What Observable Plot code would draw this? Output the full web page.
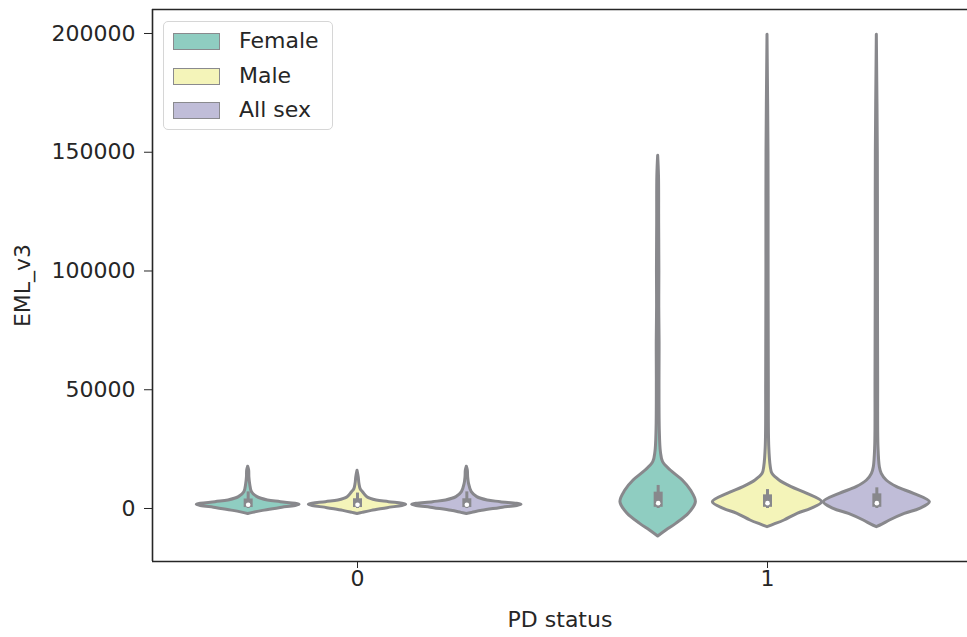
<!DOCTYPE html>
<html><head><meta charset="utf-8">
<script src="https://cdn.jsdelivr.net/npm/d3@7"></script>
<script src="https://cdn.jsdelivr.net/npm/@observablehq/plot@0.6"></script>
<style>
body{margin:0;background:#fff;font-family:"DejaVu Sans",sans-serif;}
#wrap{position:relative;width:967px;height:637px;overflow:hidden;}
.legend{position:absolute;left:163px;top:21px;width:170px;height:109px;border:1px solid #d6d6d6;border-radius:5px;background:rgba(255,255,255,0.85);box-sizing:border-box;}
.item{position:absolute;left:9px;height:17px;display:flex;align-items:center;}
.sw{width:47px;height:17px;box-sizing:border-box;border:1.3px solid #8a8a8e;}
.lab{position:absolute;left:66px;top:-6px;font-size:22px;color:#262626;white-space:nowrap;line-height:28px;}
</style></head><body><div id="wrap"></div><script>
// Categories and hue groups
const categories = [0, 1];
const groups = ["Female", "Male", "All sex"];
const groupColors = ["#8fcdc1", "#f4f4b9", "#c0bdd8"];
const yTicks = [0, 50000, 100000, 150000, 200000];

// Violin density profiles (EML_v3 value, relative density)
const f0_y = [-2300, -1830, -990, 140, 1550, 2670, 3370, 4770, 6880, 10400, 13200, 16000, 17600];
const f0_d = [0, 0.09, 0.27, 0.57, 0.94, 0.60, 0.36, 0.17, 0.07, 0.035, 0.022, 0.018, 0];
const m0_y = [-2300, -1830, -990, 140, 1550, 2670, 3370, 4770, 6880, 8000, 10400, 13200, 15900];
const m0_d = [0, 0.09, 0.26, 0.55, 0.89, 0.58, 0.35, 0.18, 0.10, 0.06, 0.035, 0.022, 0];
const a0_y = [-2300, -1830, -990, 140, 1550, 2670, 3370, 4770, 6880, 10400, 13200, 16000, 17600];
const a0_d = [0, 0.10, 0.28, 0.60, 1.0, 0.62, 0.38, 0.19, 0.09, 0.04, 0.024, 0.018, 0];
const f1_y = [-11790, -9260, -6460, -2250, 2670, 7580, 11790, 16000, 19510, 23720, 32840, 53900, 70000, 85000, 100000, 120000, 140000, 148500];
const f1_d = [0, 0.15, 0.33, 0.56, 0.69, 0.60, 0.45, 0.23, 0.09, 0.05, 0.03, 0.024, 0.026, 0.02, 0.022, 0.018, 0.015, 0];
const m1_y = [-7860, -6800, -5050, -2245, -140, 2670, 6170, 8980, 11790, 14600, 17400, 25830, 53900, 100000, 150000, 199500];
const m1_d = [0, 0.12, 0.31, 0.55, 0.80, 1.0, 0.73, 0.44, 0.22, 0.09, 0.06, 0.032, 0.024, 0.02, 0.018, 0];
const a1_y = [-7860, -6800, -5050, -2245, -140, 2670, 6170, 8980, 11790, 14600, 17400, 25830, 53900, 100000, 150000, 199500];
const a1_d = [0, 0.10, 0.24, 0.51, 0.79, 0.97, 0.68, 0.37, 0.18, 0.09, 0.055, 0.03, 0.024, 0.02, 0.018, 0];

// Inner box statistics, order: F0, M0, A0, F1, M1, A1
const boxCat = [0, 0, 0, 1, 1, 1];
const boxGroup = [0, 1, 2, 0, 1, 2];
const whiskLo = [0, 0, 0, 0, 0, 0];
const q1 = [400, 400, 400, 500, 500, 500];
const median = [1600, 1600, 1600, 2250, 2250, 2250];
const q3 = [4000, 4100, 4100, 6880, 5750, 6170];
const whiskHi = [7000, 6500, 7000, 9700, 7970, 8700];

const profiles = [
  [0, 0, f0_y, f0_d], [0, 1, m0_y, m0_d], [0, 2, a0_y, a0_d],
  [1, 0, f1_y, f1_d], [1, 1, m1_y, m1_d], [1, 2, a1_y, a1_d]
];

const hueWidth = 0.8 / groups.length;
const off = g => (g - (groups.length - 1) / 2) * hueWidth;
const gray = "#88888c";
const ink = "#262626";
const xDomain = [-0.5, 1.4878];
const yDomain = [-22316, 210105];

const marks = [];
for (const [c, g, ys, ds] of profiles) {
  const rows = ys.map((y, i) => ({y, x1: c + off(g) - ds[i] * hueWidth / 2, x2: c + off(g) + ds[i] * hueWidth / 2}));
  marks.push(Plot.areaX(rows, {y: "y", x1: "x1", x2: "x2", fill: groupColors[g], stroke: gray, strokeWidth: 3, strokeLinejoin: "round", curve: "catmull-rom"}));
}
const boxes = boxCat.map((c, i) => ({x: c + off(boxGroup[i]), lo: whiskLo[i], hi: whiskHi[i], q1: q1[i], q3: q3[i], med: median[i]}));
marks.push(Plot.ruleX(boxes, {x: "x", y1: "lo", y2: "hi", stroke: gray, strokeWidth: 3}));
marks.push(Plot.ruleX(boxes, {x: "x", y1: "q1", y2: "q3", stroke: gray, strokeWidth: 9}));
marks.push(Plot.dot(boxes, {x: "x", y: "med", r: 2.3, fill: "white", stroke: null}));

marks.push(Plot.ruleX([xDomain[0]], {stroke: ink, strokeWidth: 1.6}));
marks.push(Plot.ruleY([yDomain[0], yDomain[1]], {stroke: ink, strokeWidth: 1.6}));
marks.push(Plot.axisX({ticks: categories, tickFormat: d => String(d), tickSize: 7, tickPadding: 2, fontSize: 22, stroke: ink, fill: ink, label: "PD status", labelAnchor: "center", labelOffset: 65, labelArrow: "none"}));
marks.push(Plot.axisY({ticks: yTicks, tickFormat: d => String(d), tickSize: 8, tickPadding: 9, fontSize: 22, stroke: ink, fill: ink, label: "EML_v3", labelAnchor: "center", labelOffset: 138, labelArrow: "none"}));

const chart = Plot.plot({
  width: 967, height: 637,
  marginLeft: 152, marginRight: 0, marginTop: 9, marginBottom: 76,
  style: {fontFamily: "DejaVu Sans", fontSize: "22px", color: ink, background: "white"},
  x: {type: "linear", domain: xDomain},
  y: {type: "linear", domain: yDomain},
  marks
});
const wrap = document.getElementById("wrap");
wrap.appendChild(chart);

const legend = document.createElement("div");
legend.className = "legend";
groups.forEach((name, i) => {
  const it = document.createElement("div");
  it.className = "item";
  it.style.top = (11 + i * 34.5) + "px";
  const sw = document.createElement("div");
  sw.className = "sw";
  sw.style.background = groupColors[i];
  const lab = document.createElement("div");
  lab.className = "lab";
  lab.textContent = name;
  it.appendChild(sw); it.appendChild(lab);
  legend.appendChild(it);
});
wrap.appendChild(legend);
</script></body></html>
